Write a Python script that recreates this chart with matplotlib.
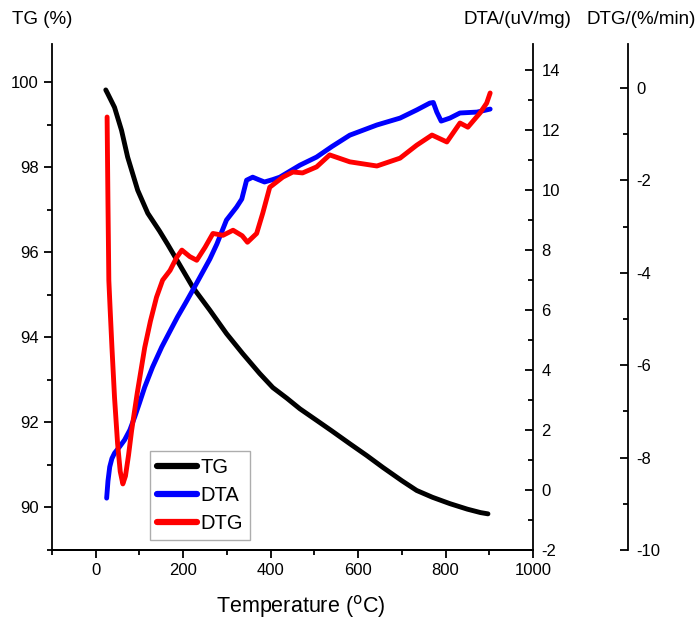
import matplotlib
matplotlib.use("Agg")
import matplotlib.pyplot as plt
from matplotlib.ticker import MultipleLocator

plt.rcParams['font.family'] = ['Liberation Sans', 'DejaVu Sans']
plt.rcParams['axes.unicode_minus'] = False

# ---- data ----
tg_T = [23, 27, 43, 59, 73, 96, 119, 146, 165, 185, 222, 261, 299, 336, 375, 405,
        437, 467, 505, 540, 581, 620, 657, 700, 734, 770, 810, 850, 880, 897]
tg_val = [99.82, 99.74, 99.41, 98.87, 98.24, 97.46, 96.92, 96.5, 96.18, 95.83, 95.18,
          94.64, 94.09, 93.62, 93.15, 92.82, 92.57, 92.32, 92.05, 91.8, 91.5, 91.22,
          90.94, 90.63, 90.4, 90.24, 90.09, 89.96, 89.88, 89.85]

dta_T = [25, 28, 32, 37, 43, 55, 66, 78, 89, 100, 112, 130, 151, 170, 187, 206, 226,
         261, 277, 299, 322, 334, 345, 359, 372, 386, 405, 421, 467, 505, 540, 581,
         643, 696, 734, 764, 772, 780, 790, 810, 833, 872, 902]
dta_val = [-0.27, 0.3, 0.77, 1.05, 1.23, 1.45, 1.67, 2.0, 2.43, 2.9, 3.43, 4.1, 4.77,
           5.3, 5.77, 6.25, 6.77, 7.7, 8.2, 9.0, 9.43, 9.7, 10.33, 10.43, 10.35, 10.27,
           10.35, 10.43, 10.83, 11.1, 11.45, 11.83, 12.17, 12.4, 12.67, 12.9, 12.92,
           12.6, 12.3, 12.4, 12.57, 12.6, 12.7]

dtg_T = [26, 28, 30, 33, 37, 43, 50, 56, 62, 68, 75, 82, 95, 112, 125, 139, 153, 170,
         185, 197, 215, 231, 250, 268, 291, 314, 335, 347, 368, 382, 398, 428, 451,
         473, 505, 535, 581, 643, 696, 734, 769, 803, 833, 851, 879, 894, 902]
dtg_val = [-0.63, -2.5, -4.17, -4.8, -5.6, -6.7, -7.7, -8.3, -8.57, -8.4, -7.95, -7.42,
           -6.6, -5.62, -5.05, -4.53, -4.16, -3.95, -3.67, -3.51, -3.65, -3.73, -3.45,
           -3.15, -3.19, -3.08, -3.2, -3.34, -3.15, -2.71, -2.15, -1.93, -1.82, -1.84,
           -1.71, -1.45, -1.6, -1.69, -1.52, -1.24, -1.02, -1.17, -0.76, -0.85, -0.54,
           -0.33, -0.11]

x_ticks = [0, 200, 400, 600, 800, 1000]
tg_ticks = [90, 92, 94, 96, 98, 100]
dta_ticks = [-2, 0, 2, 4, 6, 8, 10, 12, 14]
dtg_ticks = [-10, -8, -6, -4, -2, 0]

# ---- figure ----
fig = plt.figure(figsize=(6.99, 6.32), dpi=100)
L, R, B, T = 52 / 699, 533 / 699, 1 - 550 / 632, 1 - 44 / 632
ax = fig.add_axes([L, B, R - L, T - B])
ax2 = ax.twinx()
ax3 = ax.twinx()

lw = 3.5
l1, = ax.plot(tg_T, tg_val, color='black', lw=lw, solid_capstyle='round',
              solid_joinstyle='round', label='TG')
l2, = ax2.plot(dta_T, dta_val, color='#0000ff', lw=lw, solid_capstyle='round',
               solid_joinstyle='round', label='DTA')
l3, = ax3.plot(dtg_T, dtg_val, color='#ff0000', lw=lw, solid_capstyle='round',
               solid_joinstyle='round', label='DTG')

ax.set_xlim(-100, 1000)
ax.set_ylim(89, 100.9)
ax2.set_ylim(-2, 14.87)
ax3.set_ylim(-10, 0.95)

for a in (ax, ax2, ax3):
    a.spines['top'].set_visible(False)
    for s in a.spines.values():
        s.set_linewidth(1.3)
ax.spines['right'].set_visible(False)
ax2.spines['left'].set_visible(False)
ax3.spines['left'].set_visible(False)
ax3.spines['right'].set_position(('axes', (628 - 52) / (533 - 52)))

ax.set_xticks(x_ticks)
ax.xaxis.set_minor_locator(MultipleLocator(100))
ax.set_yticks(tg_ticks)
ax.yaxis.set_minor_locator(MultipleLocator(1))
ax2.set_yticks(dta_ticks)
ax2.yaxis.set_minor_locator(MultipleLocator(1))
ax3.set_yticks(dtg_ticks)
ax3.yaxis.set_minor_locator(MultipleLocator(1))

fs_tick = 12
ax.tick_params(axis='both', which='major', direction='out', length=6, width=1.3, labelsize=fs_tick)
ax.tick_params(axis='both', which='minor', direction='out', length=3.5, width=1.3)
for a in (ax2, ax3):
    a.tick_params(axis='y', which='major', direction='in', length=6, width=1.3, labelsize=fs_tick, pad=6)
    a.tick_params(axis='y', which='minor', direction='in', length=3.5, width=1.3)

fig.text(12 / 699, 1 - 20 / 632, 'TG (%)', fontsize=13.5, ha='left', va='center')
fig.text(517 / 699, 1 - 20 / 632, 'DTA/(uV/mg)', fontsize=13.5, ha='center', va='center')
fig.text(641 / 699, 1 - 20 / 632, 'DTG/(%/min)', fontsize=13.5, ha='center', va='center')
fig.text(301 / 699, 1 - 607 / 632, r'Temperature ($^{\mathrm{o}}$C)', fontsize=15.5,
         ha='center', va='center')

leg = ax3.legend([l1, l2, l3], ['TG', 'DTA', 'DTG'], loc='lower left',
                 bbox_to_anchor=((150 - 52) / 481, (550 - 540) / 506),
                 fontsize=14.5, frameon=True, fancybox=False, handlelength=2.0,
                 handletextpad=0.15, borderpad=0.35, labelspacing=0.45, borderaxespad=0)
leg.get_frame().set_edgecolor('#999999')
leg.get_frame().set_linewidth(1.0)
for h in leg.get_lines():
    h.set_linewidth(4.5)

fig.savefig('out.png', dpi=100)
